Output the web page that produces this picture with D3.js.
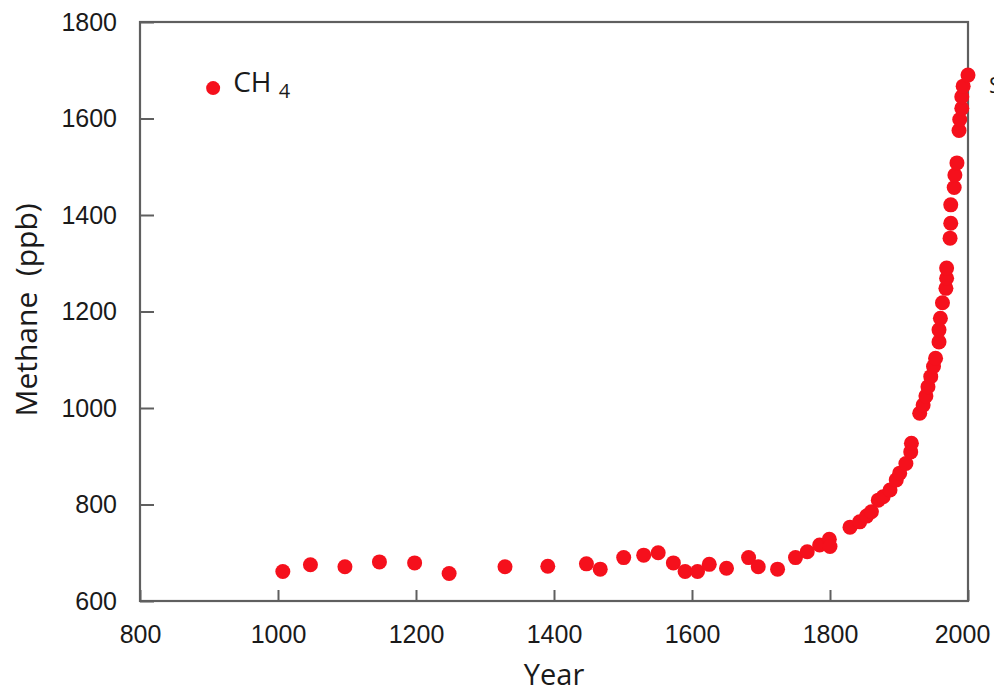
<!DOCTYPE html>
<html>
<head>
<meta charset="utf-8">
<script src="https://cdn.jsdelivr.net/npm/d3@7/dist/d3.min.js"></script>
<style>
    body { margin: 0; background: #fff; }
    svg { display: block; font-family: 'Open Sans', 'Liberation Sans', sans-serif; }
    .axis text { font-size: 25px; fill: #1a1a1a; }
    .axis line { stroke: #5f5f5f; stroke-width: 2; }
</style>
</head>
<body>
<div id="chart"></div>
<script>
// methane record
var years = [1007, 1047, 1097, 1147, 1198, 1248, 1329, 1391, 1447, 1467,
    1501, 1530, 1551, 1573, 1590, 1608, 1625, 1650, 1682, 1696,
    1724, 1750, 1767, 1785, 1799, 1800, 1829, 1843, 1853, 1860,
    1870, 1877, 1887, 1896, 1901, 1910, 1917, 1918, 1930, 1935,
    1939, 1942, 1946, 1950, 1953, 1958, 1958, 1960, 1963, 1968,
    1969, 1969, 1974, 1975, 1975, 1980, 1981, 1984, 1987, 1988,
    1991, 1991, 1993, 2000];
var methane = [661, 675, 671, 681, 679, 657, 671, 672, 677, 666,
    690, 695, 700, 679, 661, 661, 676, 668, 690, 671,
    666, 690, 702, 716, 728, 713, 753, 764, 776, 785,
    809, 816, 830, 851, 865, 885, 909, 927, 989, 1006,
    1025, 1044, 1065, 1086, 1103, 1137, 1162, 1186, 1218, 1248,
    1269, 1290, 1352, 1383, 1421, 1457, 1483, 1508, 1575, 1598,
    1621, 1645, 1667, 1690];
var xTicks = [800, 1000, 1200, 1400, 1600, 1800, 2000];
var yTicks = [600, 800, 1000, 1200, 1400, 1600, 1800];
var legendLabel = 'CH';
var legendSub = '4';
var legendValue = { year: 906, ppb: 1663 };

var width = 994, height = 691;
var margin = {top: 22, right: 26, bottom: 90, left: 140};

var svg = d3.select('#chart').append('svg')
    .attr('width', width)
    .attr('height', height);

var xScale = d3.scaleLinear()
    .domain([800, 2000])
    .range([margin.left, width - margin.right]);

var yScale = d3.scaleLinear()
    .domain([600, 1800])
    .range([height - margin.bottom, margin.top]);

var red = '#f5101c';

// frame
svg.append('rect')
    .attr('x', xScale(800))
    .attr('y', yScale(1800))
    .attr('width', xScale(2000) - xScale(800))
    .attr('height', yScale(600) - yScale(1800))
    .attr('fill', 'none')
    .attr('stroke', '#5f5f5f')
    .attr('stroke-width', 2.2);

var xAxis = svg.append('g')
    .attr('class', 'axis')
    .attr('transform', 'translate(0,' + yScale(600) + ')')
    .call(d3.axisBottom(xScale)
        .tickValues(xTicks)
        .tickSizeInner(-11)
        .tickSizeOuter(0)
        .tickPadding(24)
        .tickFormat(d3.format('d')));
xAxis.select('.domain').remove();
// last label sits a little left so it stays on the page
xAxis.selectAll('.tick text')
    .filter(function(d) { return d === 2000; })
    .attr('dx', -6);

var yAxis = svg.append('g')
    .attr('class', 'axis')
    .attr('transform', 'translate(' + xScale(800) + ',0)')
    .call(d3.axisLeft(yScale)
        .tickValues(yTicks)
        .tickSizeInner(-14)
        .tickSizeOuter(0)
        .tickPadding(23)
        .tickFormat(d3.format('d')));
yAxis.select('.domain').remove();

// points
svg.selectAll('circle.pt')
    .data(d3.zip(years, methane))
    .enter().append('circle')
    .attr('class', 'pt')
    .attr('cx', function(d) { return xScale(d[0]); })
    .attr('cy', function(d) { return yScale(d[1]); })
    .attr('r', 7.5)
    .attr('fill', red);

// legend
svg.append('circle')
    .attr('cx', xScale(legendValue.year))
    .attr('cy', yScale(legendValue.ppb))
    .attr('r', 7)
    .attr('fill', red);

var leg = svg.append('text')
    .attr('x', xScale(legendValue.year) + 20)
    .attr('y', yScale(legendValue.ppb) + 4)
    .attr('font-size', 28)
    .attr('fill', '#1a1a1a');
leg.append('tspan').text(legendLabel + ' ');
leg.append('tspan')
    .attr('font-size', 20)
    .attr('dy', 6)
    .text(legendSub);

// axis titles
svg.append('text')
    .attr('x', (xScale(800) + xScale(2000)) / 2)
    .attr('y', 685)
    .attr('text-anchor', 'middle')
    .attr('font-size', 29)
    .attr('fill', '#1a1a1a')
    .text('Year');

svg.append('text')
    .attr('transform', 'translate(37,' + 310 + ') rotate(-90)')
    .attr('text-anchor', 'middle')
    .attr('font-size', 30)
    .attr('fill', '#1a1a1a')
    .attr('xml:space', 'preserve')
    .text('Methane  (ppb)');

// clipped glyph at right edge of the source image
svg.append('text')
    .attr('x', 989)
    .attr('y', 93)
    .attr('font-size', 22)
    .attr('fill', '#1a1a1a')
    .text('S');
</script>
</body>
</html>
